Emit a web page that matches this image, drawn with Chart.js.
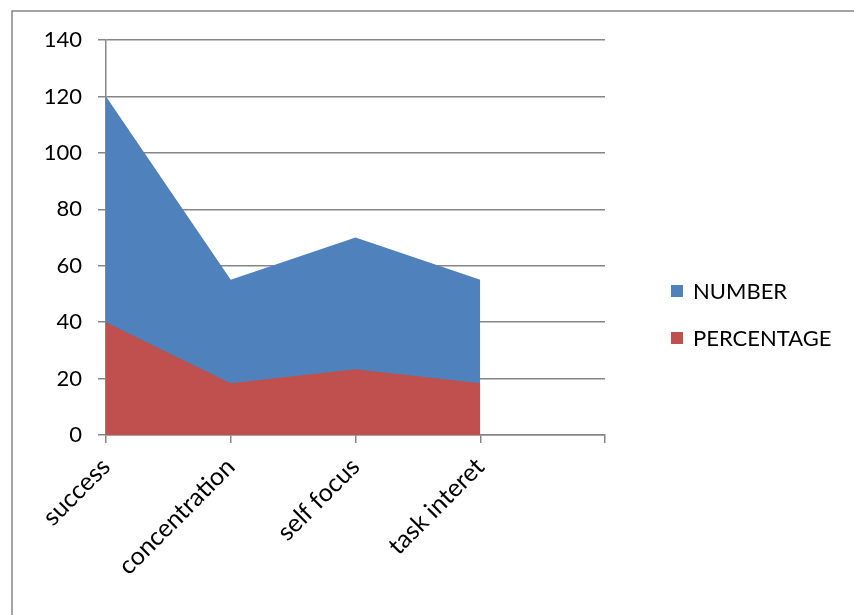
<!DOCTYPE html>
<html>
<head>
<meta charset="utf-8">
<script src="https://cdn.jsdelivr.net/npm/chart.js@4"></script>
<style>
    html, body { margin: 0; padding: 0; background: #fff; }
    #wrap { width: 854px; height: 615px; position: relative; }
</style>
</head>
<body>
<div id="wrap"><canvas id="areaChart" width="854" height="615"></canvas></div>
<script>
// categories (last slot is empty, as in the original sheet)
const categories = ['success', 'concentration', 'self focus', 'task interet', ''];
const numberValues = [120, 55, 70, 55];
const percentValues = [40, 18.3, 23.3, 18.3];
const yTicks = [0, 20, 40, 60, 80, 100, 120, 140];

const blue = '#4F81BD';
const red = '#C0504D';
const gridGray = '#868686';
const font = 'Lato, "Liberation Sans", sans-serif';

// legend + outer frame drawn by hand so they sit where Excel put them
const extras = {
    id: 'extras',
    afterDraw(chart) {
        const ctx = chart.ctx;
        ctx.save();
        ctx.strokeStyle = gridGray;
        ctx.lineWidth = 1.5;
        ctx.beginPath();
        ctx.moveTo(12, 615);
        ctx.lineTo(12, 11);
        ctx.lineTo(854, 11);
        ctx.stroke();

        const items = [
            { label: 'NUMBER', color: blue, y: 291 },
            { label: 'PERCENTAGE', color: red, y: 338 }
        ];
        ctx.font = '22px ' + font;
        ctx.textBaseline = 'middle';
        items.forEach(item => {
            ctx.fillStyle = item.color;
            ctx.fillRect(671, item.y - 6, 12, 12);
            ctx.fillStyle = '#000';
            ctx.fillText(item.label, 693, item.y + 1);
        });
        ctx.restore();
    }
};

new Chart(document.getElementById('areaChart'), {
    type: 'line',
    data: {
        labels: categories,
        datasets: [
            {
                label: 'NUMBER',
                data: numberValues,
                backgroundColor: blue,
                borderWidth: 0,
                pointRadius: 0,
                fill: 'origin',
                order: 1
            },
            {
                label: 'PERCENTAGE',
                data: percentValues,
                backgroundColor: red,
                borderWidth: 0,
                pointRadius: 0,
                fill: 'origin',
                order: 0
            }
        ]
    },
    options: {
        responsive: false,
        animation: false,
        layout: { padding: { top: 40, right: 249, left: 0, bottom: 0 } },
        plugins: {
            legend: { display: false },
            tooltip: { enabled: false }
        },
        scales: {
            x: {
                offset: false,
                grid: { display: true, drawOnChartArea: false, drawTicks: true, tickLength: 8, color: gridGray, lineWidth: 1.5 },
                border: { display: true, color: gridGray, width: 1.5 },
                ticks: {
                    autoSkip: false,
                    maxRotation: 45,
                    minRotation: 45,
                    padding: 9,
                    color: '#000',
                    font: { family: font, size: 25 }
                },
                afterFit(scale) { scale.height = 180; }
            },
            y: {
                min: 0,
                max: 140,
                afterBuildTicks(scale) { scale.ticks = yTicks.map(v => ({ value: v })); },
                grid: { color: gridGray, lineWidth: 1.5, tickLength: 8 },
                border: { display: true, color: gridGray, width: 1.5 },
                ticks: {
                    padding: 16,
                    color: '#000',
                    font: { family: font, size: 22 }
                },
                afterFit(scale) { scale.width = 106; }
            }
        }
    },
    plugins: [extras]
});
</script>
</body>
</html>
